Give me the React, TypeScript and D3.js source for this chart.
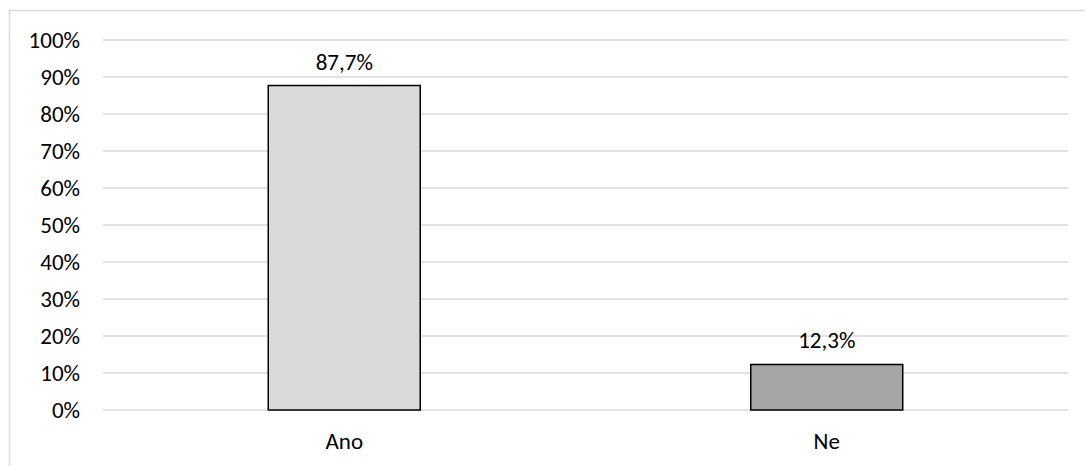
import React from "react";
import * as d3 from "d3";

const categories = ["Ano", "Ne"];
const values = [87.7, 12.3];
const valueLabels = ["87,7%", "12,3%"];
const barColors = ["#d9d9d9", "#a6a6a6"];
const yTicks = [0, 10, 20, 30, 40, 50, 60, 70, 80, 90, 100];

const W = 1085;
const H = 466;
const plot = { left: 103, right: 1068, top: 40, bottom: 410 };
const font = "Calibri, Carlito, 'Open Sans', sans-serif";
const fontSize = 23;

export default function App() {
  const x = d3
    .scaleBand<string>()
    .domain(categories)
    .range([plot.left, plot.right])
    .paddingInner(0.685)
    .paddingOuter(0.3425);
  const y = d3.scaleLinear().domain([0, 100]).range([plot.bottom, plot.top]);

  return (
    <svg
      width={W}
      height={H}
      style={{ position: "absolute", left: 0, top: 0, background: "#fff" }}
    >
      <rect x={0} y={0} width={W} height={H} fill="#fff" />
      {/* chart area frame */}
      <rect x={9.5} y={10.5} width={W + 10} height={H + 10} fill="none" stroke="#d9d9d9" strokeWidth={1.5} />
      {/* gridlines */}
      {yTicks.map((t) => (
        <line
          key={t}
          x1={plot.left}
          x2={plot.right}
          y1={y(t)}
          y2={y(t)}
          stroke="#d9d9d9"
          strokeWidth={1.5}
        />
      ))}
      {/* y tick labels */}
      {yTicks.map((t) => (
        <text
          key={"l" + t}
          x={80}
          y={y(t)}
          dy="0.33em"
          textAnchor="end"
          fontFamily={font}
          fontSize={fontSize}
          fill="#000"
        >
          {t}%
        </text>
      ))}
      {/* bars */}
      {categories.map((c, i) => (
        <rect
          key={c}
          x={x(c)!}
          y={y(values[i])}
          width={x.bandwidth()}
          height={y(0) - y(values[i])}
          fill={barColors[i]}
          stroke="#000"
          strokeWidth={1.5}
        />
      ))}
      {/* value labels */}
      {categories.map((c, i) => (
        <text
          key={"v" + c}
          x={x(c)! + x.bandwidth() / 2}
          y={y(values[i]) - 16}
          textAnchor="middle"
          fontFamily={font}
          fontSize={fontSize}
          fill="#000"
        >
          {valueLabels[i]}
        </text>
      ))}
      {/* category labels */}
      {categories.map((c) => (
        <text
          key={"c" + c}
          x={x(c)! + x.bandwidth() / 2}
          y={449}
          textAnchor="middle"
          fontFamily={font}
          fontSize={fontSize}
          fill="#000"
        >
          {c}
        </text>
      ))}
    </svg>
  );
}
